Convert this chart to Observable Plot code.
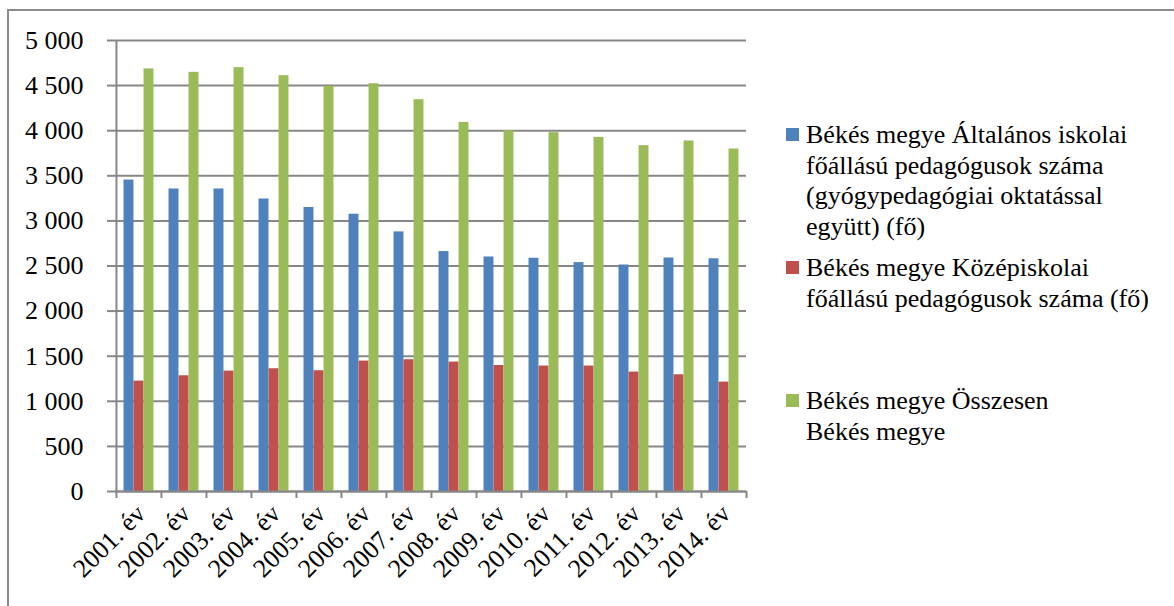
<!DOCTYPE html>
<html>
<head>
<meta charset="utf-8">
<script src="https://cdn.jsdelivr.net/npm/d3@7"></script>
<script src="https://cdn.jsdelivr.net/npm/@observablehq/plot@0.6"></script>
<style>
  html, body { margin: 0; padding: 0; background: #fff; }
  #wrap { position: relative; width: 1174px; height: 606px; overflow: hidden; font-family: "Liberation Serif", "DejaVu Serif", "Times New Roman", serif; }
  #chart { position: absolute; left: 0; top: 0; }
  #border { position: absolute; left: 7px; top: 9px; width: 1200px; height: 640px; border: 2px solid #8c8c8c; box-sizing: border-box; }
  .item { position: absolute; left: 786px; font-size: 26px; line-height: 30.5px; color: #000; white-space: nowrap; font-family: "Liberation Serif", "DejaVu Serif", "Times New Roman", serif; }
  .item .sw { position: absolute; left: 0; top: 8px; width: 13px; height: 13px; }
  .item .tx { position: absolute; left: 20px; top: 0; }
  #chart svg text { font-family: "Liberation Serif", "DejaVu Serif", "Times New Roman", serif; }
</style>
</head>
<body>
<div id="wrap">
  <div id="chart"></div>
  <div id="border"></div>
  <div id="legend"></div>
</div>
<script>
// ---- data ----
const years = ["2001. év","2002. év","2003. év","2004. év","2005. év","2006. év","2007. év","2008. év","2009. év","2010. év","2011. év","2012. év","2013. év","2014. év"];
const seriesNames = [
  "Békés megye Általános iskolai főállású pedagógusok száma (gyógypedagógiai oktatással együtt) (fő)",
  "Békés megye Középiskolai főállású pedagógusok száma (fő)",
  "Békés megye Összesen Békés megye"
];
const legendLines = [
  ["Békés megye Általános iskolai", "főállású pedagógusok száma", "(gyógypedagógiai oktatással", "együtt) (fő)"],
  ["Békés megye Középiskolai", "főállású pedagógusok száma (fő)"],
  ["Békés megye Összesen", "Békés megye"]
];
const altalanos = [3453, 3354, 3354, 3243, 3149, 3074, 2878, 2660, 2600, 2586, 2538, 2511, 2589, 2580];
const kozep     = [1224, 1283, 1335, 1361, 1339, 1446, 1461, 1435, 1397, 1391, 1391, 1324, 1294, 1213];
const osszesen  = [4685, 4647, 4699, 4610, 4491, 4521, 4344, 4092, 4000, 3978, 3926, 3834, 3886, 3797];
const yTicks = [0, 500, 1000, 1500, 2000, 2500, 3000, 3500, 4000, 4500, 5000];
const colors = ["#4F81BD", "#C0504D", "#9BBB59"];

// ---- table ----
const valuesBySeries = [altalanos, kozep, osszesen];
const rows = [];
seriesNames.forEach((s, si) => years.forEach((y, yi) => rows.push({series: s, year: y, value: valuesBySeries[si][yi]})));

// ---- layout ----
const W = 1174, H = 606;
const mL = 115, mR = W - 746, mT = 40, mB = H - 491;
const step = (W - mL - mR) / years.length;
const bw = step * 0.222;
const pad = (step - 3 * bw) / 2;
const gray = "#878787";
const serif = "'Liberation Serif', 'DejaVu Serif', 'Times New Roman', serif";
const fmt = d => d3.format(",")(d).replace(/,/g, " ");

const barMarks = seriesNames.map((s, i) =>
  Plot.barY(rows.filter(r => r.series === s), {
    x: "year", y: "value", fill: "series",
    insetLeft: pad + i * bw,
    insetRight: step - pad - (i + 1) * bw
  })
);

const chart = Plot.plot({
  width: W, height: H,
  marginLeft: mL, marginRight: mR, marginTop: mT, marginBottom: mB,
  style: {background: "transparent", fontFamily: serif, fontSize: "26px", color: "#000"},
  x: {domain: years, padding: 0, axis: null},
  y: {domain: [0, 5000], axis: null},
  color: {domain: seriesNames, range: colors},
  marks: [
    Plot.gridY(yTicks, {stroke: gray, strokeOpacity: 1, strokeWidth: 2}),
    ...barMarks,
    Plot.ruleY([0], {stroke: gray, strokeWidth: 2}),
    Plot.ruleX([years[0]], {stroke: gray, strokeWidth: 2, dx: -step / 2}),
    Plot.axisY({ticks: yTicks, tickFormat: fmt, tickSize: 8, tickPadding: 24, stroke: gray, strokeWidth: 2, fill: "#000", fontSize: 26, label: null}),
    Plot.axisX({tickSize: 7, text: null, stroke: gray, strokeWidth: 2, dx: -step / 2, label: null}),
    Plot.axisX([years[years.length - 1]], {tickSize: 7, text: null, stroke: gray, strokeWidth: 2, dx: step / 2, label: null}),
    Plot.axisX({tickSize: 0, tickPadding: 18, tickRotate: -45, fill: "#000", fontSize: 26, dx: 2, label: null})
  ]
});
document.getElementById("chart").appendChild(chart);

// ---- legend ----
const tops = [120, 253, 386];
const leg = document.getElementById("legend");
legendLines.forEach((lines, i) => {
  const it = document.createElement("div");
  it.className = "item";
  it.style.top = tops[i] + "px";
  const sw = document.createElement("div");
  sw.className = "sw";
  sw.style.background = colors[i];
  const tx = document.createElement("div");
  tx.className = "tx";
  tx.innerHTML = lines.join("<br>");
  it.appendChild(sw); it.appendChild(tx);
  leg.appendChild(it);
});
</script>
</body>
</html>
